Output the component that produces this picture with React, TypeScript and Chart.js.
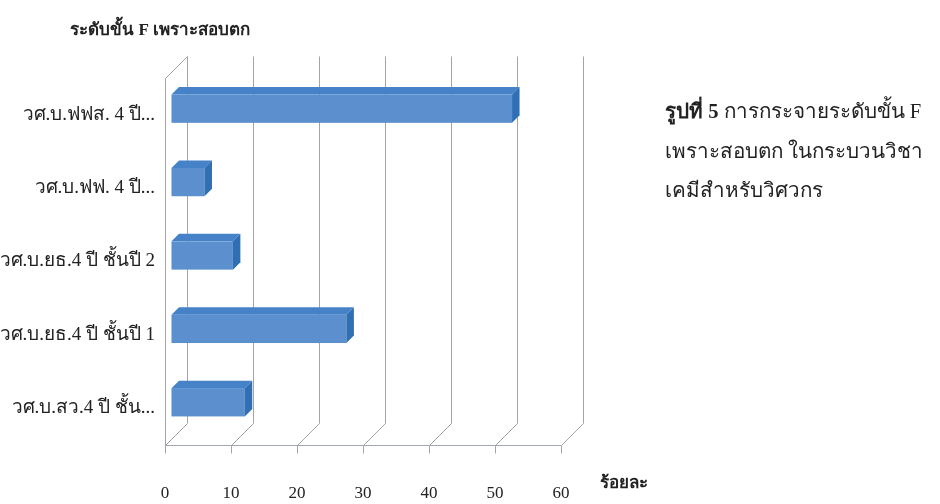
import React, { useEffect, useRef } from "react";
import { Chart, registerables } from "chart.js";

Chart.register(...registerables);

const categories = [
  "วศ.บ.ฟฟส. 4 ปี...",
  "วศ.บ.ฟฟ. 4 ปี...",
  "วศ.บ.ยธ.4 ปี ชั้นปี 2",
  "วศ.บ.ยธ.4 ปี ชั้นปี 1",
  "วศ.บ.สว.4 ปี ชั้น...",
];
const percentages = [51.6, 5.0, 9.3, 26.5, 11.1];
const xTickValues = [0, 10, 20, 30, 40, 50, 60];
const chartTitle = "ระดับขั้น F เพราะสอบตก";
const xAxisTitle = "ร้อยละ";
const captionBold = "รูปที่ 5";
const captionLines = [" การกระจายระดับขั้น F", "เพราะสอบตก ในกระบวนวิชา", "เคมีสำหรับวิศวกร"];

const FONT = "'Liberation Serif', 'DejaVu Serif', serif";
const WALL_DX = 22;
const WALL_DY = -22;
const BAR_OX = 6.5;
const BAR_OY = -6;
const BAR_D = 7.5;

const wallsPlugin = {
  id: "walls3d",
  beforeDatasetsDraw(chart: any) {
    const { ctx, chartArea, scales } = chart;
    const { top, bottom, left } = chartArea;
    const x = scales.x;
    ctx.save();
    ctx.lineWidth = 1;
    ctx.strokeStyle = "#A4A4A4";
    const r = (v: number) => Math.round(v) + 0.5;
    // left wall
    ctx.beginPath();
    ctx.moveTo(r(left), r(bottom));
    ctx.lineTo(r(left), r(top));
    ctx.lineTo(r(left + WALL_DX), r(top + WALL_DY));
    ctx.stroke();
    // back wall gridlines and floor diagonals
    xTickValues.forEach((v) => {
      const px = x.getPixelForValue(v);
      ctx.beginPath();
      ctx.moveTo(r(px), r(bottom));
      ctx.lineTo(r(px + WALL_DX), r(bottom + WALL_DY));
      ctx.lineTo(r(px + WALL_DX), r(top + WALL_DY));
      ctx.stroke();
    });
    // front axis line with ticks
    ctx.strokeStyle = "#9FA8B3";
    ctx.beginPath();
    ctx.moveTo(r(left), r(bottom));
    ctx.lineTo(r(x.getPixelForValue(xTickValues[xTickValues.length - 1])), r(bottom));
    xTickValues.forEach((v) => {
      const px = x.getPixelForValue(v);
      ctx.moveTo(r(px), r(bottom));
      ctx.lineTo(r(px), r(bottom + 8));
    });
    ctx.stroke();
    ctx.restore();
  },
  afterDatasetsDraw(chart: any) {
    const { ctx } = chart;
    const meta = chart.getDatasetMeta(0);
    ctx.save();
    meta.data.forEach((el: any) => {
      const p = el.getProps(["x", "y", "base", "height"], true);
      const x0 = p.base + BAR_OX;
      const x1 = p.x + BAR_OX;
      const y0 = p.y - p.height / 2 + BAR_OY;
      const y1 = p.y + p.height / 2 + BAR_OY;
      // front face
      ctx.fillStyle = "#5B8FCE";
      ctx.fillRect(x0, y0, x1 - x0, y1 - y0);
      // top face
      ctx.fillStyle = "#4682C8";
      ctx.beginPath();
      ctx.moveTo(x0, y0);
      ctx.lineTo(x0 + BAR_D, y0 - BAR_D);
      ctx.lineTo(x1 + BAR_D, y0 - BAR_D);
      ctx.lineTo(x1, y0);
      ctx.closePath();
      ctx.fill();
      // side face
      ctx.fillStyle = "#2E6FB6";
      ctx.beginPath();
      ctx.moveTo(x1, y0);
      ctx.lineTo(x1 + BAR_D, y0 - BAR_D);
      ctx.lineTo(x1 + BAR_D, y1 - BAR_D);
      ctx.lineTo(x1, y1);
      ctx.closePath();
      ctx.fill();
    });
    ctx.restore();
  },
};

export default function App() {
  const ref = useRef<HTMLCanvasElement | null>(null);
  useEffect(() => {
    document.body.style.margin = "0";
    if (!ref.current) return;
    const chart = new Chart(ref.current, {
      type: "bar",
      data: {
        labels: categories,
        datasets: [
          {
            data: percentages,
            backgroundColor: "rgba(0,0,0,0)",
            borderWidth: 0,
            categoryPercentage: 1,
            barPercentage: 0.385,
          },
        ],
      },
      options: {
        indexAxis: "y",
        animation: false,
        responsive: false,
        layout: { padding: { left: 0, right: 379, top: 78, bottom: 0 } },
        plugins: { legend: { display: false }, tooltip: { enabled: false }, title: { display: false } },
        scales: {
          x: {
            min: 0,
            max: 60,
            afterBuildTicks: (s: any) => {
              s.ticks = xTickValues.map((v) => ({ value: v }));
            },
            afterFit: (s: any) => {
              s.height = 59;
            },
            grid: { display: false, drawTicks: false },
            border: { display: false },
            ticks: {
              padding: 38,
              color: "#222",
              font: { family: FONT, size: 17 },
              maxRotation: 0,
            },
          },
          y: {
            afterFit: (s: any) => {
              s.width = 165;
            },
            grid: { display: false, drawTicks: false },
            border: { display: false },
            ticks: {
              padding: 10,
              color: "#222",
              font: { family: FONT, size: 19 },
            },
          },
        },
      },
      plugins: [wallsPlugin],
    } as any);
    return () => chart.destroy();
  }, []);

  return (
    <div style={{ position: "relative", width: 940, height: 504, fontFamily: FONT, color: "#222" }}>
      <canvas ref={ref} width={940} height={504} style={{ position: "absolute", left: 0, top: 0 }} />
      <div
        style={{
          position: "absolute",
          left: 60,
          width: 200,
          top: 18,
          textAlign: "center",
          fontWeight: "bold",
          fontSize: 17,
          lineHeight: "24px",
          whiteSpace: "nowrap",
        }}
      >
        {chartTitle}
      </div>
      <div
        style={{
          position: "absolute",
          left: 600,
          top: 471,
          fontWeight: "bold",
          fontSize: 17,
          lineHeight: "24px",
          whiteSpace: "nowrap",
        }}
      >
        {xAxisTitle}
      </div>
      <div
        style={{
          position: "absolute",
          left: 665,
          top: 92,
          fontSize: 20.6,
          lineHeight: "39.5px",
          whiteSpace: "nowrap",
        }}
      >
        <div>
          <b>{captionBold}</b>
          {captionLines[0]}
        </div>
        <div>{captionLines[1]}</div>
        <div>{captionLines[2]}</div>
      </div>
    </div>
  );
}
